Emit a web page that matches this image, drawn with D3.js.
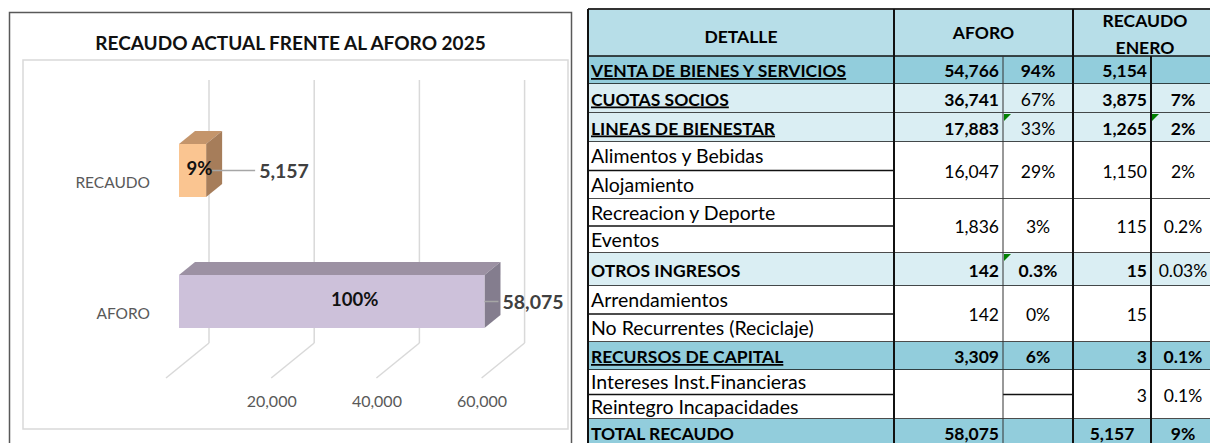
<!DOCTYPE html>
<html>
<head>
<meta charset="utf-8">
<script src="https://cdn.jsdelivr.net/npm/d3@7"></script>
<style>
  body { margin: 0; background: #fff; }
  svg { display: block; font-family: Lato, "Open Sans", sans-serif; }
</style>
</head>
<body>
<svg id="page" width="1210" height="443"></svg>
<script>
// ---- chart data ----
const categories = ["RECAUDO", "AFORO"];
const values = [5157, 58075];
const pctLabels = ["9%", "100%"];
const tickValues = [0, 20000, 40000, 60000];

// ---- table data ----
const detalle = [
  ["VENTA DE BIENES Y SERVICIOS"],
  ["CUOTAS SOCIOS"],
  ["LINEAS DE BIENESTAR"],
  ["Alimentos y Bebidas", "Alojamiento"],
  ["Recreacion y Deporte", "Eventos"],
  ["OTROS INGRESOS"],
  ["Arrendamientos", "No Recurrentes (Reciclaje)"],
  ["RECURSOS DE CAPITAL"],
  ["Intereses Inst.Financieras", "Reintegro Incapacidades"],
  ["TOTAL RECAUDO"]
];
const aforo = [54766, 36741, 17883, 16047, 1836, 142, 142, 3309, null, 58075];
const aforoPct = ["94%", "67%", "33%", "29%", "3%", "0.3%", "0%", "6%", "", ""];
const recaudo = [5154, 3875, 1265, 1150, 115, 15, 15, 3, 3, 5157];
const recaudoPct = ["", "7%", "2%", "2%", "0.2%", "0.03%", "", "0.1%", "0.1%", "9%"];
const rowKind = ["main", "sub", "sub", "item", "item", "otros", "item", "main", "item", "total"];

const svg = d3.select("#page");
const fmt = d3.format(",");

// =================== 3D bar chart ===================
svg.append("rect")
  .attr("x", 9.5).attr("y", 12.5).attr("width", 562).attr("height", 445)
  .attr("fill", "#fff").attr("stroke", "#595959").attr("stroke-width", 1.5);
svg.append("rect")
  .attr("x", 23).attr("y", 60).attr("width", 545).attr("height", 369)
  .attr("fill", "none").attr("stroke", "#d9d9d9").attr("stroke-width", 1.5);

svg.append("text")
  .attr("x", 290.5).attr("y", 50)
  .attr("text-anchor", "middle")
  .attr("font-weight", "bold").attr("font-size", 19)
  .attr("fill", "#111")
  .text("RECAUDO ACTUAL FRENTE AL AFORO 2025");

const x = d3.scaleLinear().domain([0, 60000]).range([179, 494.6]);
const y = d3.scalePoint().domain(categories).range([170.5, 301.5]);
const barH = 53;
const depth = [16, -13];    // bar depth offset
const back = 30;            // back wall offset
const floor = [-13, 35];    // floor line offset
const gridTop = 80, gridBottom = 343;

// gridlines (back wall + floor)
const grid = svg.append("g").attr("stroke", "#d9d9d9").attr("stroke-width", 1.5);
grid.selectAll(".v").data(tickValues).enter().append("line")
  .attr("x1", d => x(d) + back).attr("x2", d => x(d) + back)
  .attr("y1", gridTop).attr("y2", gridBottom);
grid.selectAll(".f").data(tickValues).enter().append("line")
  .attr("x1", d => x(d) + back).attr("y1", gridBottom)
  .attr("x2", d => x(d) + floor[0]).attr("y2", gridBottom + floor[1]);

svg.selectAll(".tick").data(tickValues.filter(d => d > 0)).enter().append("text")
  .attr("x", d => x(d) + floor[0] + 0.5)
  .attr("y", 407)
  .attr("text-anchor", "middle")
  .attr("font-size", 16).attr("fill", "#595959")
  .text(fmt);

svg.selectAll(".cat").data(categories).enter().append("text")
  .attr("x", 150).attr("y", d => y(d) + 17)
  .attr("text-anchor", "end")
  .attr("font-size", 15.5).attr("fill", "#595959")
  .text(d => d);

// bars
const barColors = [
  { front: "#fac591", top: "#c4956b", side: "#a67d5a" },
  { front: "#cdc1da", top: "#9c91a3", side: "#847d8e" }
];
const bars = svg.selectAll(".bar").data(values).enter().append("g");
bars.each(function(v, i) {
  const g = d3.select(this);
  const x0 = x(0), x1 = x(v);
  const top = y(categories[i]) - barH / 2, bot = top + barH;
  const c = barColors[i];
  g.append("polygon")
    .attr("points", [[x0, top], [x0 + depth[0], top + depth[1]], [x1 + depth[0], top + depth[1]], [x1, top]].join(" "))
    .attr("fill", c.top);
  g.append("polygon")
    .attr("points", [[x1, top], [x1 + depth[0], top + depth[1]], [x1 + depth[0], bot + depth[1]], [x1, bot]].join(" "))
    .attr("fill", c.side);
  g.append("rect")
    .attr("x", x0).attr("y", top).attr("width", x1 - x0).attr("height", barH)
    .attr("fill", c.front);
});

// data labels
const leaderLen = [43, 14];
const pctShift = [7, 23];
values.forEach((v, i) => {
  const yc = y(categories[i]);
  const x1 = x(v);
  const lx = x1 + (i === 0 ? 6 : 0);
  svg.append("line")
    .attr("x1", lx).attr("x2", lx + leaderLen[i])
    .attr("y1", yc).attr("y2", yc)
    .attr("stroke", "#a6a6a6").attr("stroke-width", 1.5);
  svg.append("text")
    .attr("x", lx + leaderLen[i] + 4).attr("y", yc + 7)
    .attr("font-weight", "bold").attr("font-size", 19.5).attr("fill", "#404040")
    .text(fmt(v));
  svg.append("text")
    .attr("x", (x(0) + x1) / 2 + pctShift[i]).attr("y", yc + 4)
    .attr("text-anchor", "middle")
    .attr("font-weight", "bold").attr("font-size", 18.5).attr("fill", "#111")
    .text(pctLabels[i]);
});

// =================== table ===================
const colX = [588, 894, 1003, 1073, 1151, 1217];
const headTop = 9, headBottom = 56;
const lineH = [[28], [29], [29], [28.5, 28.5], [27, 27], [33], [28, 28], [28], [24.5, 24.5], [28]];
const fills = { main: "#92cddc", total: "#92cddc", sub: "#daeef3", otros: "#daeef3", item: "#fff" };
const bold = {
  main:  [1, 1, 1, 1, 1],
  sub:   [1, 1, 0, 1, 1],
  otros: [1, 1, 1, 1, 0],
  item:  [0, 0, 0, 0, 0],
  total: [1, 1, 1, 1, 1]
};
const fs = 17.5;
const tbl = svg.append("g").attr("font-size", fs).attr("fill", "#000");

// header
tbl.append("rect").attr("x", colX[0]).attr("y", headTop)
  .attr("width", colX[5] - colX[0]).attr("height", headBottom - headTop)
  .attr("fill", "#b7dee8");
tbl.append("text").attr("x", (colX[0] + colX[1]) / 2).attr("y", 43)
  .attr("text-anchor", "middle").attr("font-weight", "bold").text("DETALLE");
tbl.append("text").attr("x", (colX[1] + colX[3]) / 2).attr("y", 39)
  .attr("text-anchor", "middle").attr("font-weight", "bold").text("AFORO");
tbl.append("text").attr("x", (colX[3] + colX[5]) / 2).attr("y", 27)
  .attr("text-anchor", "middle").attr("font-weight", "bold").text("RECAUDO");
tbl.append("text").attr("x", (colX[3] + colX[5]) / 2).attr("y", 54)
  .attr("text-anchor", "middle").attr("font-weight", "bold").text("ENERO");

// rows
let yy = headBottom;
const rows = detalle.map((lines, i) => {
  const h = d3.sum(lineH[i]);
  const r = { i, y0: yy, y1: yy + h, lines };
  yy += h;
  return r;
});

rows.forEach(r => {
  const kind = rowKind[r.i];
  const b = bold[kind];
  tbl.append("rect").attr("x", colX[0]).attr("y", r.y0)
    .attr("width", colX[5] - colX[0]).attr("height", r.y1 - r.y0)
    .attr("fill", fills[kind]);

  // labels
  let ly = r.y0;
  r.lines.forEach((t, k) => {
    const h = lineH[r.i][k];
    tbl.append("text").attr("x", colX[0] + 3).attr("y", ly + h / 2 + 7)
      .attr("font-weight", b[0] ? "bold" : "normal")
      .attr("font-size", b[0] ? fs : 19.5)
      .style("text-decoration", (kind === "main" || kind === "sub") ? "underline" : null)
      .text(t);
    ly += h;
    if (k < r.lines.length - 1) {
      tbl.append("line").attr("x1", colX[0]).attr("x2", colX[1])
        .attr("y1", ly).attr("y2", ly).attr("stroke", "#111").attr("stroke-width", 1.5);
      if (aforo[r.i] === null) {
        tbl.append("line").attr("x1", colX[2]).attr("x2", colX[3])
          .attr("y1", ly).attr("y2", ly).attr("stroke", "#111").attr("stroke-width", 1.5);
      }
    }
  });

  const yc = (r.y0 + r.y1) / 2 + 7;
  if (aforo[r.i] !== null) {
    tbl.append("text").attr("x", colX[2] - 4).attr("y", yc).attr("text-anchor", "end")
      .attr("font-weight", b[1] ? "bold" : "normal").text(fmt(aforo[r.i]));
  }
  tbl.append("text").attr("x", (colX[2] + colX[3]) / 2).attr("y", yc).attr("text-anchor", "middle")
    .attr("font-weight", b[2] ? "bold" : "normal").text(aforoPct[r.i]);
  const centred = kind === "total";
  tbl.append("text")
    .attr("x", centred ? (colX[3] + colX[4]) / 2 : colX[4] - 4).attr("y", yc)
    .attr("text-anchor", centred ? "middle" : "end")
    .attr("font-weight", b[3] ? "bold" : "normal").text(fmt(recaudo[r.i]));
  tbl.append("text").attr("x", (colX[4] + colX[5]) / 2 - 1).attr("y", yc).attr("text-anchor", "middle")
    .attr("font-weight", b[4] ? "bold" : "normal").text(recaudoPct[r.i]);

  tbl.append("line").attr("x1", colX[0]).attr("x2", colX[5])
    .attr("y1", r.y1).attr("y2", r.y1).attr("stroke", "#111").attr("stroke-width", 1.5);
});

// Excel error markers (green corners)
const flagCells = [[2, 2], [2, 4], [5, 2]];
flagCells.forEach(([ri, ci]) => {
  const x0 = colX[ci] + 1, y0 = rows[ri].y0 + 1;
  tbl.append("polygon")
    .attr("points", [[x0, y0], [x0 + 7, y0], [x0, y0 + 7]].join(" "))
    .attr("fill", "#008000");
});

// borders
const gridEnd = rows[rows.length - 1].y1;
tbl.append("line").attr("x1", colX[0]).attr("x2", colX[5])
  .attr("y1", headTop).attr("y2", headTop).attr("stroke", "#333").attr("stroke-width", 2);
tbl.append("line").attr("x1", colX[0]).attr("x2", colX[5])
  .attr("y1", headBottom).attr("y2", headBottom).attr("stroke", "#111").attr("stroke-width", 1.5);
[0, 1, 3].forEach(c => {
  tbl.append("line").attr("x1", colX[c]).attr("x2", colX[c])
    .attr("y1", headTop).attr("y2", gridEnd).attr("stroke", "#111").attr("stroke-width", 2);
});
tbl.append("line").attr("x1", colX[4]).attr("x2", colX[4])
  .attr("y1", headBottom).attr("y2", gridEnd).attr("stroke", "#111").attr("stroke-width", 2);
tbl.append("line").attr("x1", colX[2]).attr("x2", colX[2])
  .attr("y1", headBottom).attr("y2", gridEnd).attr("stroke", "#333").attr("stroke-width", 1);
</script>
</body>
</html>
